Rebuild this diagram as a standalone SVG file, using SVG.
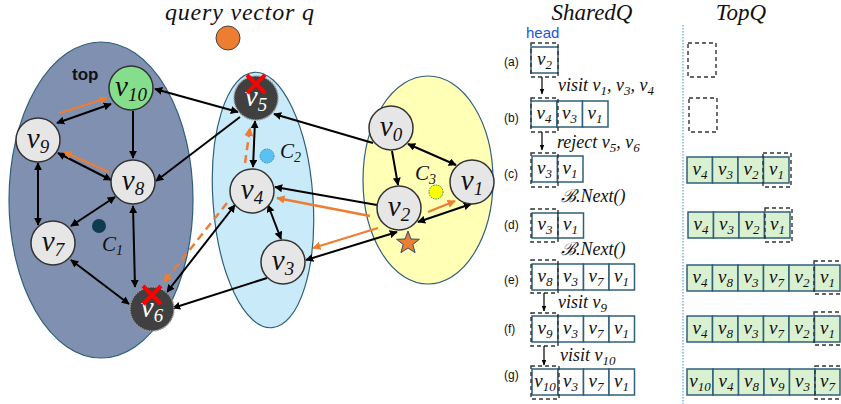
<svg xmlns="http://www.w3.org/2000/svg" width="841" height="404" viewBox="0 0 841 404">
<style>
.m{font-family:"Liberation Serif","DejaVu Serif",serif;font-style:italic;fill:#111}
.nl{font-size:29px;text-anchor:middle}
.cl{font-size:19px;text-anchor:middle}
.lbl{font-size:18px}
.s{font-family:"Liberation Sans",Arial,sans-serif;fill:#111}
.node{fill:#e6e6e6;stroke:#333;stroke-width:1.5}
.dark{fill:#404040;stroke:#999;stroke-width:1.5;stroke-dasharray:1.5 1}
.e{stroke:#000;stroke-width:2;fill:none}
.o{stroke:#ed7d31;stroke-width:2.3;fill:none}
.od{stroke:#ed7d31;stroke-width:2.5;fill:none;stroke-dasharray:8 5}
.cell{fill:#fff;stroke:#2f5f7a;stroke-width:1.5}
.gcell{fill:#d9f1d0;stroke:#2f5f7a;stroke-width:1.5}
.dash{fill:none;stroke:#333;stroke-width:1.4;stroke-dasharray:4 3}
.x{stroke:#ff0000;stroke-width:4}
.qa{stroke:#000;stroke-width:1.2;fill:none}
</style>
<defs>
<marker id="ah" viewBox="0 0 10 10" refX="9" refY="5" markerWidth="4" markerHeight="4" orient="auto-start-reverse"><path d="M0,0 L10,5 L0,10 z" fill="#000"/></marker>
<marker id="oh" viewBox="0 0 10 10" refX="9" refY="5" markerWidth="3.6" markerHeight="3.6" orient="auto"><path d="M0,0 L10,5 L0,10 z" fill="#ed7d31"/></marker>
<marker id="sh" viewBox="0 0 10 10" refX="9" refY="5" markerWidth="5" markerHeight="5" orient="auto"><path d="M0,1 L10,5 L0,9 z" fill="#000"/></marker>
</defs>

<g id="clusters">
<ellipse cx="101" cy="200" rx="92" ry="158" fill="#8090b1" stroke="#2f5f7a" stroke-width="1.2"/>
<ellipse cx="263" cy="200" rx="50" ry="128" transform="rotate(-4 263 200)" fill="#c9eaf9" stroke="#2f5f7a" stroke-width="1.2"/>
<ellipse cx="428" cy="180" rx="65" ry="104" fill="#ffffb5" stroke="#2f5f7a" stroke-width="1.2"/>
</g>

<text class="m" x="165" y="20" font-size="24" letter-spacing="0.8">query vector q</text>
<circle id="q" cx="228" cy="38" r="12" fill="#ed7d31" stroke="#444" stroke-width="1"/>
<text class="s" x="72" y="80" font-size="17" font-weight="bold">top</text>

<g id="centroids">
<circle cx="99" cy="226" r="7" fill="#0e3b4f"/>
<text class="m" x="102" y="251" font-size="21">C<tspan dy="4" font-size="14">1</tspan></text>
<circle cx="267" cy="156" r="7" fill="#5bc1f2" stroke="#2f8fb0" stroke-width="1" stroke-dasharray="1.5 1"/>
<text class="m" x="280" y="158" font-size="21">C<tspan dy="4" font-size="14">2</tspan></text>
<circle cx="436" cy="192" r="7" fill="#ffff00" stroke="#2f7f6a" stroke-width="1" stroke-dasharray="1.5 1"/>
<text class="m" x="415" y="180" font-size="21">C<tspan dy="4" font-size="14">3</tspan></text>
</g>

<g id="connectors">
<line class="e" x1="57" y1="123" x2="111" y2="104" marker-start="url(#ah)" marker-end="url(#ah)"/>
<line class="e" x1="133" y1="111" x2="133" y2="158" marker-end="url(#ah)"/>
<line class="e" x1="58" y1="153" x2="111" y2="180" marker-start="url(#ah)" marker-end="url(#ah)"/>
<line class="e" x1="38" y1="163" x2="38" y2="225" marker-start="url(#ah)" marker-end="url(#ah)"/>
<line class="e" x1="115" y1="197" x2="71" y2="226" marker-start="url(#ah)" marker-end="url(#ah)"/>
<line class="e" x1="133" y1="206" x2="135" y2="287" marker-start="url(#ah)" marker-end="url(#ah)"/>
<line class="e" x1="71" y1="260" x2="129" y2="304" marker-start="url(#ah)" marker-end="url(#ah)"/>
<line class="e" x1="238" y1="112" x2="155" y2="89" marker-start="url(#ah)" marker-end="url(#ah)"/>
<line class="e" x1="240" y1="117" x2="156" y2="181" marker-end="url(#ah)"/>
<line class="e" x1="373" y1="143" x2="274" y2="114" marker-end="url(#ah)"/>
<line class="e" x1="255" y1="121" x2="253" y2="167" marker-start="url(#ah)" marker-end="url(#ah)"/>
<line class="e" x1="392" y1="151" x2="398" y2="185" marker-end="url(#ah)"/>
<line class="e" x1="408" y1="144" x2="456" y2="165" marker-start="url(#ah)" marker-end="url(#ah)"/>
<line class="e" x1="377" y1="205" x2="275" y2="187" marker-end="url(#ah)"/>
<line class="e" x1="306" y1="260" x2="397" y2="232" marker-start="url(#ah)" marker-end="url(#ah)"/>
<line class="e" x1="418" y1="222" x2="471" y2="204" marker-start="url(#ah)" marker-end="url(#ah)"/>
<line class="e" x1="268" y1="205" x2="281" y2="239" marker-start="url(#ah)" marker-end="url(#ah)"/>
<line class="e" x1="235" y1="205" x2="167" y2="292" marker-start="url(#ah)" marker-end="url(#ah)"/>
<line class="e" x1="267" y1="278" x2="173" y2="308" marker-end="url(#ah)"/>
<line class="o" x1="60" y1="113" x2="107" y2="98" marker-end="url(#oh)"/>
<line class="o" x1="109" y1="172" x2="64" y2="152" marker-end="url(#oh)"/>
<line class="o" x1="370" y1="216" x2="277" y2="198" marker-end="url(#oh)"/>
<line class="o" x1="378" y1="228" x2="313" y2="248" marker-end="url(#oh)"/>
<line class="o" x1="428" y1="212" x2="455" y2="201" marker-end="url(#oh)"/>
<line class="od" x1="245" y1="163" x2="250" y2="128" marker-end="url(#oh)"/>
<line class="od" x1="227" y1="203" x2="164" y2="282" marker-end="url(#oh)"/>
</g>

<g id="v10"><circle cx="131" cy="88" r="22" fill="#85de8c" stroke="#333" stroke-width="1.5"/><text class="m nl" x="131" y="96">v<tspan dy="5" font-size="19">10</tspan></text></g>
<g id="v9"><circle class="node" cx="38" cy="140" r="22"/><text class="m nl" x="38" y="148">v<tspan dy="5" font-size="19">9</tspan></text></g>
<g id="v8"><circle class="node" cx="133" cy="182" r="22"/><text class="m nl" x="133" y="190">v<tspan dy="5" font-size="19">8</tspan></text></g>
<g id="v7"><circle class="node" cx="53" cy="243" r="22"/><text class="m nl" x="53" y="251">v<tspan dy="5" font-size="19">7</tspan></text></g>
<g id="v6"><circle class="dark" cx="152" cy="309" r="22"/><text class="m nl" x="152" y="317" style="fill:#fff">v<tspan dy="5" font-size="19">6</tspan></text><line class="x" x1="143" y1="286" x2="161" y2="304"/><line class="x" x1="161" y1="286" x2="143" y2="304"/></g>
<g id="v5"><circle class="dark" cx="256" cy="98" r="22"/><text class="m nl" x="256" y="106" style="fill:#fff">v<tspan dy="5" font-size="19">5</tspan></text><line class="x" x1="247" y1="75" x2="265" y2="93"/><line class="x" x1="265" y1="75" x2="247" y2="93"/></g>
<g id="v4"><circle class="node" cx="252" cy="191" r="22"/><text class="m nl" x="252" y="199">v<tspan dy="5" font-size="19">4</tspan></text></g>
<g id="v3"><circle class="node" cx="283" cy="262" r="22"/><text class="m nl" x="283" y="270">v<tspan dy="5" font-size="19">3</tspan></text></g>
<g id="v0"><circle class="node" cx="391" cy="128" r="22"/><text class="m nl" x="391" y="136">v<tspan dy="5" font-size="19">0</tspan></text></g>
<g id="v1"><circle class="node" cx="472" cy="182" r="22"/><text class="m nl" x="472" y="190">v<tspan dy="5" font-size="19">1</tspan></text></g>
<g id="v2"><circle class="node" cx="399" cy="208" r="22"/><text class="m nl" x="399" y="216">v<tspan dy="5" font-size="19">2</tspan></text></g>
<polygon id="star" points="408,231 410.9,239 419.4,239.3 412.8,244.5 415.1,252.7 408,248 400.9,252.7 403.2,244.5 396.6,239.3 405.1,239" fill="#ed7d31" stroke="#2f4f6a" stroke-width="1"/>

<text class="m" x="592" y="20" font-size="23" text-anchor="middle">SharedQ</text>
<text class="m" x="741" y="20" font-size="23" text-anchor="middle">TopQ</text>
<line x1="683" y1="25" x2="683" y2="404" stroke="#5b9bd5" stroke-width="1.2" stroke-dasharray="1.5 1.5"/>
<text class="s" x="526" y="38" font-size="15" style="fill:#2255dd">head</text>

<g id="sharedq">
<text class="s" x="504" y="66" font-size="12">(a)</text>
<text class="s" x="504" y="122" font-size="12">(b)</text>
<text class="s" x="504" y="178" font-size="12">(c)</text>
<text class="s" x="504" y="229" font-size="12">(d)</text>
<text class="s" x="504" y="284" font-size="12">(e)</text>
<text class="s" x="504" y="333" font-size="12">(f)</text>
<text class="s" x="504" y="379" font-size="12">(g)</text>

<rect class="cell" x="531" y="47" width="27" height="26"/>
<text class="m cl" x="544.5" y="65">v<tspan dy="4" font-size="13">2</tspan></text>
<rect class="dash" x="531" y="43" width="27" height="34"/>

<rect class="cell" x="531" y="101" width="26" height="26"/><rect class="cell" x="557" y="101" width="25.5" height="26"/><rect class="cell" x="582.5" y="101" width="25.5" height="26"/>
<text class="m cl" x="544" y="119">v<tspan dy="4" font-size="13">4</tspan></text>
<text class="m cl" x="569.5" y="119">v<tspan dy="4" font-size="13">3</tspan></text>
<text class="m cl" x="595" y="119">v<tspan dy="4" font-size="13">1</tspan></text>
<rect class="dash" x="531" y="98" width="27" height="34"/>

<rect class="cell" x="532" y="156" width="25.5" height="26"/><rect class="cell" x="557.5" y="156" width="25.5" height="26"/>
<text class="m cl" x="544.5" y="174">v<tspan dy="4" font-size="13">3</tspan></text>
<text class="m cl" x="570" y="174">v<tspan dy="4" font-size="13">1</tspan></text>
<rect class="dash" x="531" y="153" width="27" height="34"/>

<rect class="cell" x="532" y="213" width="26" height="25"/><rect class="cell" x="558" y="213" width="25.5" height="25"/>
<text class="m cl" x="545" y="230">v<tspan dy="4" font-size="13">3</tspan></text>
<text class="m cl" x="570.5" y="230">v<tspan dy="4" font-size="13">1</tspan></text>
<rect class="dash" x="531" y="209" width="27" height="33"/>

<rect class="cell" x="532" y="264" width="26" height="26"/><rect class="cell" x="558" y="264" width="25.5" height="26"/><rect class="cell" x="583.5" y="264" width="25.5" height="26"/><rect class="cell" x="609" y="264" width="25.5" height="26"/>
<text class="m cl" x="545" y="282">v<tspan dy="4" font-size="13">8</tspan></text>
<text class="m cl" x="570.5" y="282">v<tspan dy="4" font-size="13">3</tspan></text>
<text class="m cl" x="596" y="282">v<tspan dy="4" font-size="13">7</tspan></text>
<text class="m cl" x="621.5" y="282">v<tspan dy="4" font-size="13">1</tspan></text>
<rect class="dash" x="531" y="260" width="27" height="33"/>

<rect class="cell" x="532" y="316" width="26" height="26"/><rect class="cell" x="558" y="316" width="25.5" height="26"/><rect class="cell" x="583.5" y="316" width="25.5" height="26"/><rect class="cell" x="609" y="316" width="25.5" height="26"/>
<text class="m cl" x="545" y="334">v<tspan dy="4" font-size="13">9</tspan></text>
<text class="m cl" x="570.5" y="334">v<tspan dy="4" font-size="13">3</tspan></text>
<text class="m cl" x="596" y="334">v<tspan dy="4" font-size="13">7</tspan></text>
<text class="m cl" x="621.5" y="334">v<tspan dy="4" font-size="13">1</tspan></text>
<rect class="dash" x="531" y="313" width="27" height="33"/>

<rect class="cell" x="532" y="369" width="26" height="26"/><rect class="cell" x="558" y="369" width="25.5" height="26"/><rect class="cell" x="583.5" y="369" width="25.5" height="26"/><rect class="cell" x="609" y="369" width="25.5" height="26"/>
<text class="m cl" x="545" y="387">v<tspan dy="4" font-size="13">10</tspan></text>
<text class="m cl" x="570.5" y="387">v<tspan dy="4" font-size="13">3</tspan></text>
<text class="m cl" x="596" y="387">v<tspan dy="4" font-size="13">7</tspan></text>
<text class="m cl" x="621.5" y="387">v<tspan dy="4" font-size="13">1</tspan></text>
<rect class="dash" x="531" y="366" width="28" height="33"/>

<line class="qa" x1="542" y1="77" x2="542" y2="94" marker-end="url(#sh)"/>
<line class="qa" x1="542" y1="132" x2="542" y2="150" marker-end="url(#sh)"/>
<line class="qa" x1="544" y1="293" x2="544" y2="311" marker-end="url(#sh)"/>
<line class="qa" x1="544" y1="346" x2="544" y2="365" marker-end="url(#sh)"/>

<text class="m lbl" x="558" y="91">visit v<tspan dy="4" font-size="13">1</tspan><tspan dy="-4">, v</tspan><tspan dy="4" font-size="13">3</tspan><tspan dy="-4">, v</tspan><tspan dy="4" font-size="13">4</tspan></text>
<text class="m lbl" x="557" y="148">reject v<tspan dy="4" font-size="13">5</tspan><tspan dy="-4">, v</tspan><tspan dy="4" font-size="13">6</tspan></text>
<text class="m lbl" x="561" y="202">ℬ.Next()</text>
<text class="m lbl" x="561" y="255">ℬ.Next()</text>
<text class="m lbl" x="558" y="308">visit v<tspan dy="4" font-size="13">9</tspan></text>
<text class="m lbl" x="560" y="361">visit v<tspan dy="4" font-size="13">10</tspan></text>
</g>

<g id="topq">
<rect class="dash" x="688" y="43" width="28" height="34"/>
<rect class="dash" x="689" y="98" width="28" height="34"/>

<rect class="gcell" x="687" y="157" width="25.5" height="26"/><rect class="gcell" x="712.5" y="157" width="25.5" height="26"/><rect class="gcell" x="738" y="157" width="25.5" height="26"/><rect class="gcell" x="763.5" y="157" width="25.5" height="26"/>
<text class="m cl" x="700" y="175">v<tspan dy="4" font-size="13">4</tspan></text>
<text class="m cl" x="725.5" y="175">v<tspan dy="4" font-size="13">3</tspan></text>
<text class="m cl" x="751" y="175">v<tspan dy="4" font-size="13">2</tspan></text>
<text class="m cl" x="776.5" y="175">v<tspan dy="4" font-size="13">1</tspan></text>
<rect class="dash" x="763" y="153" width="28" height="34"/>

<rect class="gcell" x="688" y="212" width="25.5" height="26"/><rect class="gcell" x="713.5" y="212" width="25.5" height="26"/><rect class="gcell" x="739" y="212" width="25.5" height="26"/><rect class="gcell" x="764.5" y="212" width="25.5" height="26"/>
<text class="m cl" x="701" y="230">v<tspan dy="4" font-size="13">4</tspan></text>
<text class="m cl" x="726.5" y="230">v<tspan dy="4" font-size="13">3</tspan></text>
<text class="m cl" x="752" y="230">v<tspan dy="4" font-size="13">2</tspan></text>
<text class="m cl" x="777.5" y="230">v<tspan dy="4" font-size="13">1</tspan></text>
<rect class="dash" x="765" y="208" width="27" height="34"/>

<rect class="gcell" x="687" y="265" width="25.5" height="26"/><rect class="gcell" x="712.5" y="265" width="25.5" height="26"/><rect class="gcell" x="738" y="265" width="25.5" height="26"/><rect class="gcell" x="763.5" y="265" width="25.5" height="26"/><rect class="gcell" x="789" y="265" width="25.5" height="26"/><rect class="gcell" x="814.5" y="265" width="25.5" height="26"/>
<text class="m cl" x="700" y="283">v<tspan dy="4" font-size="13">4</tspan></text>
<text class="m cl" x="725.5" y="283">v<tspan dy="4" font-size="13">8</tspan></text>
<text class="m cl" x="751" y="283">v<tspan dy="4" font-size="13">3</tspan></text>
<text class="m cl" x="776.5" y="283">v<tspan dy="4" font-size="13">7</tspan></text>
<text class="m cl" x="802" y="283">v<tspan dy="4" font-size="13">2</tspan></text>
<text class="m cl" x="827.5" y="283">v<tspan dy="4" font-size="13">1</tspan></text>
<rect class="dash" x="814" y="261" width="28" height="33"/>

<rect class="gcell" x="687" y="316" width="25.5" height="26"/><rect class="gcell" x="712.5" y="316" width="25.5" height="26"/><rect class="gcell" x="738" y="316" width="25.5" height="26"/><rect class="gcell" x="763.5" y="316" width="25.5" height="26"/><rect class="gcell" x="789" y="316" width="25.5" height="26"/><rect class="gcell" x="814.5" y="316" width="25.5" height="26"/>
<text class="m cl" x="700" y="334">v<tspan dy="4" font-size="13">4</tspan></text>
<text class="m cl" x="725.5" y="334">v<tspan dy="4" font-size="13">8</tspan></text>
<text class="m cl" x="751" y="334">v<tspan dy="4" font-size="13">3</tspan></text>
<text class="m cl" x="776.5" y="334">v<tspan dy="4" font-size="13">7</tspan></text>
<text class="m cl" x="802" y="334">v<tspan dy="4" font-size="13">2</tspan></text>
<text class="m cl" x="827.5" y="334">v<tspan dy="4" font-size="13">1</tspan></text>
<rect class="dash" x="814" y="312" width="28" height="33"/>

<rect class="gcell" x="687" y="369" width="26" height="26"/><rect class="gcell" x="713" y="369" width="25.5" height="26"/><rect class="gcell" x="738.5" y="369" width="25.5" height="26"/><rect class="gcell" x="764" y="369" width="25.5" height="26"/><rect class="gcell" x="789.5" y="369" width="25.5" height="26"/><rect class="gcell" x="815" y="369" width="25" height="26"/>
<text class="m cl" x="700" y="387">v<tspan dy="4" font-size="13">10</tspan></text>
<text class="m cl" x="726" y="387">v<tspan dy="4" font-size="13">4</tspan></text>
<text class="m cl" x="751.5" y="387">v<tspan dy="4" font-size="13">8</tspan></text>
<text class="m cl" x="777" y="387">v<tspan dy="4" font-size="13">9</tspan></text>
<text class="m cl" x="802.5" y="387">v<tspan dy="4" font-size="13">3</tspan></text>
<text class="m cl" x="827.5" y="387">v<tspan dy="4" font-size="13">7</tspan></text>
<rect class="dash" x="815" y="366" width="27" height="33"/>
</g>
</svg>
